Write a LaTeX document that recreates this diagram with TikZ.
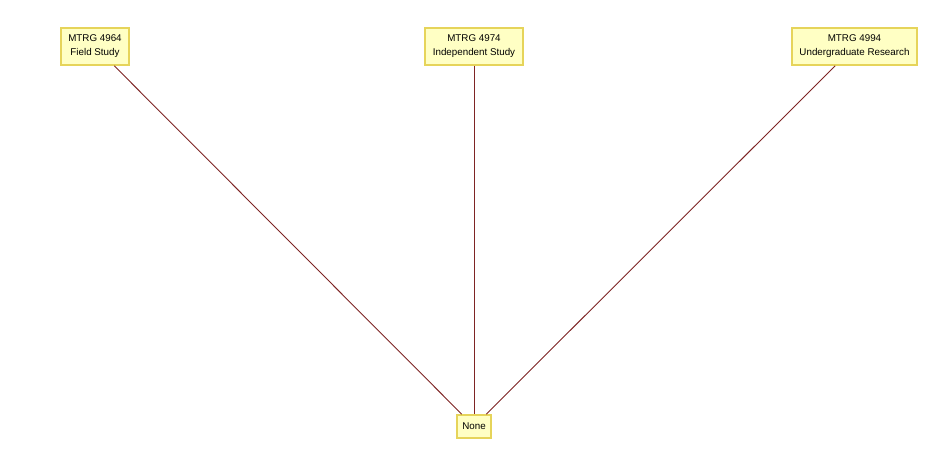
\documentclass[tikz,border=0pt]{standalone}
\usepackage{fontspec}
\setmainfont{Liberation Sans}
\definecolor{boxfill}{HTML}{FFFFC4}
\definecolor{boxline}{HTML}{E6D45A}
\definecolor{linkc}{HTML}{7E2424}
\tikzset{
  course/.style={draw=boxline, fill=boxfill, line width=1.6pt, align=center,
    font=\fontsize{9.8}{14}\selectfont, inner sep=0pt, anchor=center},
  link/.style={draw=linkc, line width=0.9pt}
}
\begin{document}
\begin{tikzpicture}[x=1pt,y=-1pt]
\useasboundingbox (0,0) rectangle (951,476);
\node[course, minimum width=68pt, minimum height=37pt] (fs) at (95,46.5) {MTRG 4964\\ Field Study};
\node[course, minimum width=98pt, minimum height=37pt] (is) at (474,46.5) {MTRG 4974\\ Independent Study};
\node[course, minimum width=125pt, minimum height=37pt] (ur) at (854.5,46.5) {MTRG 4994\\ Undergraduate Research};
\node[course, minimum width=34pt, minimum height=23pt] (none) at (474,426.5) {None};
\draw[link] (fs) -- (none);
\draw[link] (is) -- (none);
\draw[link] (ur) -- (none);
\end{tikzpicture}
\end{document}
